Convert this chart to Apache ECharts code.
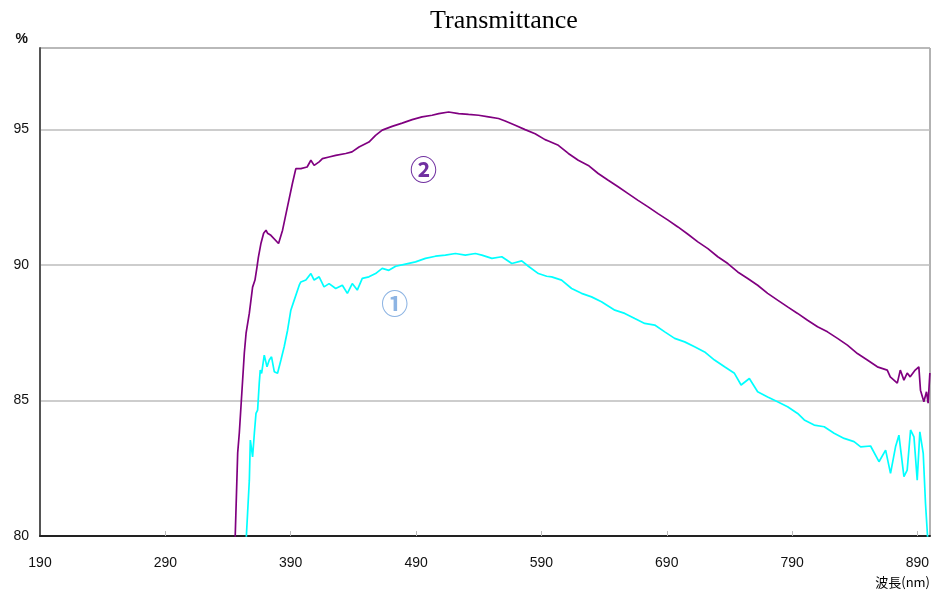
<!DOCTYPE html>
<html>
<head>
<meta charset="utf-8">
<script src="https://cdn.jsdelivr.net/npm/echarts@6/dist/echarts.min.js"></script>
<style>
  html, body { margin: 0; padding: 0; background: #fff; }
  #chart { width: 933px; height: 593px; }
</style>
</head>
<body>
<div id="chart"></div>
<script>
// sample ① (cyan)
const wl1 = [354.4, 355.6, 357.0, 357.8, 359.6, 361.0, 362.3, 363.6, 364.9, 365.7, 366.8, 368.9, 371.1, 372.9, 374.7, 376.9, 379.5, 382.2, 384.8, 387.5, 390.1, 392.8, 396.8, 398.1, 402.1, 406.1, 408.7, 412.7, 416.6, 420.6, 425.9, 431.2, 435.2, 439.1, 443.1, 447.1, 452.4, 457.7, 463.0, 468.3, 473.7, 481.6, 489.6, 497.5, 505.5, 513.4, 521.4, 529.3, 537.3, 542.5, 550.5, 558.4, 566.4, 574.3, 579.6, 587.6, 594.2, 598.2, 606.1, 614.1, 622.0, 630.0, 637.9, 648.6, 656.5, 664.5, 672.4, 680.4, 688.4, 696.3, 704.3, 712.2, 720.2, 728.1, 736.1, 744.0, 749.3, 755.9, 762.5, 770.5, 778.4, 786.4, 794.4, 799.7, 807.6, 815.6, 823.5, 831.5, 839.4, 844.7, 852.6, 859.3, 864.6, 868.5, 872.5, 875.2, 879.2, 881.8, 884.5, 887.2, 889.8, 891.9, 894.6, 896.4, 898.3]
const t1 = [79.8, 80.84, 82.06, 83.54, 82.92, 83.79, 84.52, 84.64, 85.63, 86.12, 86.0, 86.67, 86.24, 86.49, 86.61, 86.06, 86.0, 86.49, 86.98, 87.59, 88.33, 88.7, 89.25, 89.37, 89.44, 89.68, 89.44, 89.56, 89.19, 89.31, 89.13, 89.25, 88.95, 89.31, 89.07, 89.5, 89.56, 89.68, 89.87, 89.8, 89.95, 90.03, 90.11, 90.24, 90.32, 90.36, 90.42, 90.36, 90.42, 90.36, 90.24, 90.3, 90.05, 90.15, 89.95, 89.68, 89.58, 89.56, 89.44, 89.13, 88.95, 88.82, 88.64, 88.33, 88.21, 88.02, 87.84, 87.78, 87.53, 87.29, 87.16, 86.98, 86.79, 86.49, 86.24, 86.0, 85.57, 85.81, 85.32, 85.13, 84.95, 84.77, 84.52, 84.28, 84.09, 84.03, 83.79, 83.6, 83.48, 83.29, 83.32, 82.74, 83.17, 82.31, 83.29, 83.72, 82.19, 82.43, 83.91, 83.66, 82.06, 83.84, 83.05, 81.21, 79.8]

// sample ② (purple)
const wl2 = [345.6, 347.7, 349.0, 353.0, 354.4, 357.0, 359.6, 361.5, 363.1, 364.2, 366.3, 368.4, 370.3, 371.5, 374.2, 380.3, 383.5, 387.4, 391.4, 394.1, 398.1, 403.1, 406.1, 408.7, 412.7, 415.3, 420.6, 425.9, 433.9, 438.9, 444.5, 452.4, 457.7, 463.0, 470.9, 478.9, 486.9, 494.8, 502.8, 508.1, 516.0, 524.0, 531.9, 539.9, 547.8, 555.8, 561.1, 569.1, 577.0, 585.0, 592.9, 595.6, 603.5, 611.5, 619.4, 627.4, 635.3, 643.3, 651.2, 659.2, 667.1, 675.1, 683.0, 691.0, 698.9, 706.9, 714.8, 722.8, 730.7, 738.7, 746.6, 754.6, 762.5, 770.5, 778.4, 786.4, 794.4, 802.3, 810.3, 818.2, 826.2, 834.1, 842.1, 850.0, 858.0, 865.9, 868.3, 873.9, 876.3, 879.2, 881.8, 884.2, 888.2, 891.1, 892.4, 895.1, 897.2, 898.5, 899.9]
const t2 = [79.8, 83.06, 83.8, 86.75, 87.48, 88.22, 89.18, 89.44, 89.92, 90.28, 90.8, 91.17, 91.28, 91.17, 91.09, 90.79, 91.28, 92.14, 93.01, 93.55, 93.55, 93.61, 93.86, 93.67, 93.8, 93.92, 93.98, 94.04, 94.11, 94.17, 94.35, 94.53, 94.78, 94.97, 95.11, 95.23, 95.36, 95.46, 95.52, 95.58, 95.64, 95.58, 95.55, 95.52, 95.46, 95.4, 95.31, 95.15, 94.99, 94.84, 94.62, 94.57, 94.41, 94.11, 93.86, 93.67, 93.37, 93.12, 92.88, 92.63, 92.38, 92.14, 91.89, 91.65, 91.4, 91.13, 90.85, 90.6, 90.3, 90.05, 89.74, 89.5, 89.25, 88.95, 88.7, 88.45, 88.21, 87.96, 87.72, 87.53, 87.29, 87.04, 86.73, 86.49, 86.24, 86.12, 85.87, 85.64, 86.12, 85.75, 86.01, 85.87, 86.12, 86.24, 85.38, 84.95, 85.32, 84.9, 86.01]

const xTicks = [190, 290, 390, 490, 590, 690, 790, 890]
const yTicks = [80, 85, 90, 95]

// where the ① / ② tags sit, in data units
const tag1 = [473, 88.55]
const tag2 = [496, 93.5]

const zip = (xs, ys) => xs.map((x, i) => [x, ys[i]])

const chart = echarts.init(document.getElementById('chart'))

chart.setOption({
  animation: false,
  title: {
    text: 'Transmittance',
    left: 409,
    top: 0,
    padding: [7, 44, 10, 21],
    backgroundColor: '#fff',
    textStyle: {
      fontFamily: 'Liberation Serif',
      fontSize: 26,
      lineHeight: 29,
      fontWeight: 'normal',
      color: '#000'
    }
  },
  grid: {
    left: 40, right: 1, top: 48, bottom: 57,
    show: true,
    borderColor: '#666',
    borderWidth: 1
  },
  xAxis: {
    type: 'value',
    min: 190,
    max: 900,
    name: '波長(nm)',
    nameLocation: 'end',
    nameGap: 0,
    nameTextStyle: {
      fontFamily: 'Noto Sans CJK JP',
      fontSize: 13,
      color: '#000',
      align: 'right',
      verticalAlign: 'top',
      padding: [40, 0, 0, 0]
    },
    axisLine: { lineStyle: { color: '#222', width: 2 } },
    axisTick: {
      show: true,
      inside: true,
      length: 5,
      customValues: xTicks.slice(1),
      lineStyle: { color: '#bbb' }
    },
    axisLabel: {
      customValues: xTicks,
      margin: 20,
      fontFamily: 'Liberation Sans',
      fontSize: 14,
      color: '#111'
    },
    splitLine: { show: false }
  },
  yAxis: {
    type: 'value',
    min: 80,
    max: 98,
    interval: 5,
    name: '%',
    nameLocation: 'end',
    nameGap: 2,
    nameTextStyle: {
      fontFamily: 'Liberation Sans',
      fontSize: 14,
      fontWeight: 'bold',
      color: '#111',
      align: 'right',
      padding: [0, 12, 0, 0]
    },
    axisLine: { show: true, lineStyle: { color: '#555', width: 2 } },
    axisTick: { show: false },
    axisLabel: {
      showMaxLabel: false,
      margin: 11,
      fontFamily: 'Liberation Sans',
      fontSize: 14,
      color: '#111',
      formatter: v => (yTicks.includes(v) ? String(v) : '')
    },
    splitLine: { show: true, lineStyle: { color: '#bdbdbd', width: 1.5 } }
  },
  series: [
    {
      name: '①',
      type: 'line',
      data: zip(wl1, t1),
      showSymbol: false,
      lineStyle: { color: '#00ffff', width: 1.7 },
      itemStyle: { color: '#00ffff' },
      markPoint: {
        symbol: 'circle',
        symbolSize: 1,
        itemStyle: { color: 'rgba(0,0,0,0)' },
        label: {
          show: true,
          position: 'inside',
          formatter: '①',
          fontFamily: 'Noto Sans CJK JP',
          fontSize: 27,
          fontWeight: 'bold',
          color: '#8db4e3'
        },
        data: [{ coord: tag1 }]
      }
    },
    {
      name: '②',
      type: 'line',
      data: zip(wl2, t2),
      showSymbol: false,
      lineStyle: { color: '#800080', width: 1.7 },
      itemStyle: { color: '#800080' },
      markPoint: {
        symbol: 'circle',
        symbolSize: 1,
        itemStyle: { color: 'rgba(0,0,0,0)' },
        label: {
          show: true,
          position: 'inside',
          formatter: '②',
          fontFamily: 'Noto Sans CJK JP',
          fontSize: 27,
          fontWeight: 'bold',
          color: '#7030a0'
        },
        data: [{ coord: tag2 }]
      }
    }
  ]
})
</script>
</body>
</html>
